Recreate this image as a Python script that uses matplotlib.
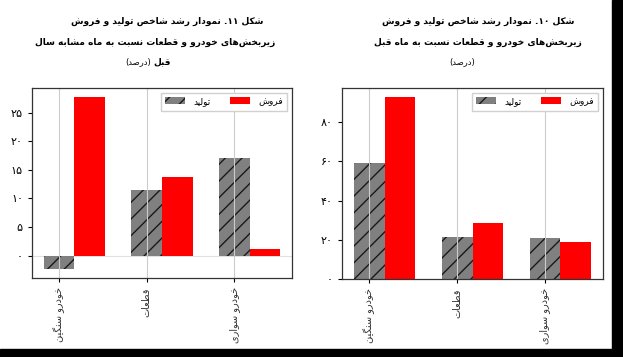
import re
import matplotlib
matplotlib.use("Agg")
import matplotlib.pyplot as plt
from matplotlib.patches import Rectangle
import numpy as np

# ---------------- data ----------------
categories = ["خودرو سنگین", "قطعات", "خودرو سواری"]
series_names = ["تولید", "فروش"]

# Figure 11: growth vs same month last year (%)
prod_yoy = [-2.4, 11.5, 17.1]
sales_yoy = [27.8, 13.8, 1.1]
yticks_yoy = [0, 5, 10, 15, 20, 25]
yticklabels_yoy = ["۰", "۵", "۱۰", "۱۵", "۲۰", "۲۵"]

# Figure 10: growth vs previous month (%)
prod_mom = [59.4, 21.4, 21.0]
sales_mom = [92.8, 28.5, 19.0]
yticks_mom = [0, 20, 40, 60, 80]
yticklabels_mom = ["۰", "۲۰", "۴۰", "۶۰", "۸۰"]

title_left = ["شکل ۱۱. نمودار رشد شاخص تولید و فروش",
              "زیربخش‌های خودرو و قطعات نسبت به ماه مشابه سال"]
title_left_3 = ("قبل", "(درصد)")
title_right = ["شکل ۱۰. نمودار رشد شاخص تولید و فروش",
               "زیربخش‌های خودرو و قطعات نسبت به ماه قبل"]
title_right_3 = "(درصد)"

# ---------------- minimal Persian shaping + RTL ordering ----------------
FORMS = {  # isolated, final, initial, medial
    "ا": (0xFE8D, 0xFE8E, None, None),
    "ب": (0xFE8F, 0xFE90, 0xFE91, 0xFE92),
    "ت": (0xFE95, 0xFE96, 0xFE97, 0xFE98),
    "خ": (0xFEA5, 0xFEA6, 0xFEA7, 0xFEA8),
    "د": (0xFEA9, 0xFEAA, None, None),
    "ر": (0xFEAD, 0xFEAE, None, None),
    "ز": (0xFEAF, 0xFEB0, None, None),
    "س": (0xFEB1, 0xFEB2, 0xFEB3, 0xFEB4),
    "ش": (0xFEB5, 0xFEB6, 0xFEB7, 0xFEB8),
    "ص": (0xFEB9, 0xFEBA, 0xFEBB, 0xFEBC),
    "ط": (0xFEC1, 0xFEC2, 0xFEC3, 0xFEC4),
    "ع": (0xFEC9, 0xFECA, 0xFECB, 0xFECC),
    "ف": (0xFED1, 0xFED2, 0xFED3, 0xFED4),
    "ق": (0xFED5, 0xFED6, 0xFED7, 0xFED8),
    "ل": (0xFEDD, 0xFEDE, 0xFEDF, 0xFEE0),
    "م": (0xFEE1, 0xFEE2, 0xFEE3, 0xFEE4),
    "ن": (0xFEE5, 0xFEE6, 0xFEE7, 0xFEE8),
    "ه": (0xFEE9, 0xFEEA, 0xFEEB, 0xFEEC),
    "و": (0xFEED, 0xFEEE, None, None),
    "ی": (0xFBFC, 0xFBFD, 0xFBFE, 0xFBFF),
    "ک": (0xFB8E, 0xFB8F, 0xFB90, 0xFB91),
    "گ": (0xFB92, 0xFB93, 0xFB94, 0xFB95),
}


def fa(text):
    out = []
    n = len(text)
    for i, c in enumerate(text):
        if c not in FORMS:
            out.append(c)
            continue
        prev = text[i - 1] if i > 0 else None
        nxt = text[i + 1] if i + 1 < n else None
        cp = prev in FORMS and FORMS[prev][2] is not None
        cn = nxt in FORMS and FORMS[c][2] is not None
        iso, fin, ini, med = FORMS[c]
        if cp and cn:
            code = med
        elif cp:
            code = fin
        elif cn:
            code = ini
        else:
            code = iso
        out.append(chr(code))
    s = "".join(out).replace("\u200c", "")
    s = s[::-1]
    s = re.sub(r"[0-9۰-۹]+", lambda m: m.group(0)[::-1], s)
    s = s.translate(str.maketrans("()", ")("))
    return s


plt.rcParams["font.family"] = ["DejaVu Sans"]
plt.rcParams["hatch.color"] = "#1a1a1a"
plt.rcParams["hatch.linewidth"] = 1.0

W, H = 623, 357
fig = plt.figure(figsize=(W / 100, H / 100), dpi=100)


def px_axes(x0, y0, x1, y1):
    return fig.add_axes([x0 / W, 1 - y1 / H, (x1 - x0) / W, (y1 - y0) / H])


def draw(ax, prod, sales, yt, ytl, zero_line):
    x = np.arange(len(categories))
    w = 0.35
    ax.bar(x, prod, w, color="#808080", hatch="//", linewidth=0,
           label=fa(series_names[0]))
    ax.bar(x + w, sales, w, color="#ff0000", linewidth=0,
           label=fa(series_names[1]))
    ax.set_xticks(x)
    ax.set_xticklabels([fa(c) for c in categories], rotation=90,
                       fontsize=7, color="#333333")
    ax.set_yticks(yt)
    ax.set_yticklabels(ytl, fontsize=8)
    ax.grid(axis="x", color="#cccccc", linewidth=0.8)
    if zero_line:
        ax.axhline(0, color="#e0e0e0", linewidth=0.8, zorder=0.5)
    ax.tick_params(length=3, width=0.8)
    for s in ax.spines.values():
        s.set_color("#333333")
        s.set_linewidth(0.9)
    ax.legend(loc="upper right", ncol=2, fontsize=6.5, fancybox=False,
              framealpha=1, edgecolor="#d0d0d0", handlelength=2.2,
              handleheight=0.8, columnspacing=2.2, handletextpad=0.9,
              borderpad=0.5)


ax1 = px_axes(32, 88, 292, 278)
draw(ax1, prod_yoy, sales_yoy, yticks_yoy, yticklabels_yoy, True)

ax2 = px_axes(342, 88, 603, 279)
draw(ax2, prod_mom, sales_mom, yticks_mom, yticklabels_mom, False)
ax2.set_ylim(bottom=0)

# titles
tkw = dict(ha="center", va="center", fontsize=6.5, fontweight="bold")
fig.text(167 / W, 1 - 21 / H, fa(title_left[0]), **tkw)
fig.text(155 / W, 1 - 42 / H, fa(title_left[1]), **tkw)
fig.text(153 / W, 1 - 62 / H, fa(title_left_3[0]), ha="left", va="center",
         fontsize=6.5, fontweight="bold")
fig.text(151 / W, 1 - 62 / H, fa(title_left_3[1]), ha="right", va="center",
         fontsize=6)
fig.text(478 / W, 1 - 21 / H, fa(title_right[0]), **tkw)
fig.text(478 / W, 1 - 42 / H, fa(title_right[1]), **tkw)
fig.text(462 / W, 1 - 62 / H, fa(title_right_3), ha="center", va="center",
         fontsize=6)

# black frame bands at right and bottom
fig.patches.append(Rectangle((612 / W, 0), 11 / W, 1, transform=fig.transFigure,
                             color="black", zorder=10))
fig.patches.append(Rectangle((0, 0), 1, 8 / H, transform=fig.transFigure,
                             color="black", zorder=10))

fig.savefig("out.png", dpi=100)
